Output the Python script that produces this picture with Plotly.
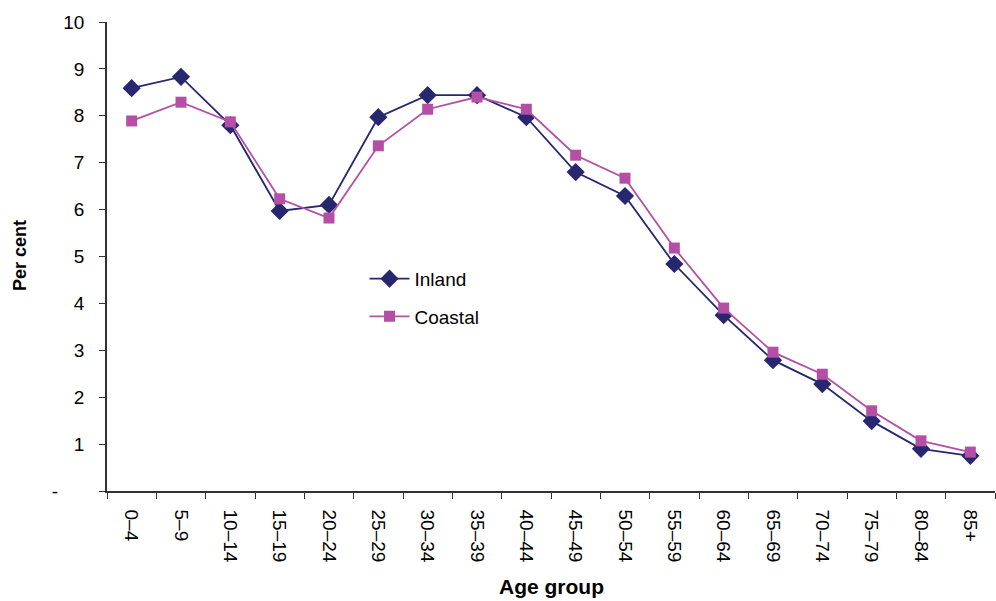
import plotly.graph_objects as go

age_groups = ["0–4", "5–9", "10–14", "15–19", "20–24", "25–29", "30–34", "35–39",
              "40–44", "45–49", "50–54", "55–59", "60–64", "65–69", "70–74", "75–79",
              "80–84", "85+"]
inland = [8.59, 8.83, 7.80, 5.97, 6.10, 7.97, 8.44, 8.44, 7.97, 6.80, 6.29, 4.84,
          3.75, 2.79, 2.28, 1.49, 0.90, 0.75]
coastal = [7.89, 8.29, 7.87, 6.23, 5.82, 7.36, 8.14, 8.40, 8.14, 7.16, 6.67, 5.18,
           3.90, 2.96, 2.49, 1.71, 1.07, 0.83]
y_tickvals = [0, 1, 2, 3, 4, 5, 6, 7, 8, 9, 10]
y_ticktext = ["-\u00a0\u00a0\u00a0\u00a0\u00a0", "1", "2", "3", "4", "5", "6", "7", "8", "9", "10"]

navy = "#26276f"
magenta = "#b54fa6"
font = "Liberation Sans, Arial, sans-serif"

fig = go.Figure()
fig.add_trace(go.Scatter(x=age_groups, y=inland, name="Inland", mode="lines+markers",
                         legendgroup="a",
                         line=dict(color=navy, width=1.8),
                         marker=dict(symbol="diamond", size=14, color=navy)))
fig.add_trace(go.Scatter(x=age_groups, y=coastal, name="Coastal", mode="lines+markers",
                         legendgroup="b",
                         line=dict(color=magenta, width=1.8),
                         marker=dict(symbol="square", size=11, color=magenta)))

fig.update_layout(
    width=996, height=601,
    margin=dict(l=107, r=1, t=22, b=110),
    paper_bgcolor="white", plot_bgcolor="white",
    font=dict(family=font, size=19, color="black"),
    showlegend=True,
    legend=dict(x=0.29, y=0.493, xanchor="left", yanchor="top",
                bgcolor="rgba(0,0,0,0)", font=dict(size=19),
                traceorder="grouped", tracegroupgap=10, itemwidth=40),
    annotations=[
        dict(text="<b>Per cent</b>", xref="paper", yref="paper", x=-0.098, y=0.503,
             xanchor="center", yanchor="middle", textangle=-90, showarrow=False,
             font=dict(size=18)),
        dict(text="<b>Age group</b>", xref="paper", yref="paper", x=0.5, y=-0.2026,
             xanchor="center", yanchor="middle", showarrow=False,
             font=dict(size=21)),
    ],
)
fig.update_xaxes(
    type="category", showline=True, linecolor="#333", linewidth=1.5,
    ticks="outside", tickson="boundaries", ticklen=6, tickcolor="#333",
    tickangle=90, showgrid=False, zeroline=False, automargin=False,
    tickfont=dict(size=19), ticklabelstandoff=13,
    range=[-0.5, 17.5],
)
fig.update_yaxes(
    range=[0, 10], tickvals=y_tickvals, ticktext=y_ticktext,
    showline=True, linecolor="#333", linewidth=1.5,
    ticks="outside", ticklen=6, tickcolor="#333", automargin=False,
    showgrid=False, zeroline=False, tickfont=dict(size=19),
    ticklabelstandoff=11,
)

fig.write_html("out.html", config={"displayModeBar": False},
               post_script="document.body.style.margin='0';document.body.style.overflow='hidden';")
